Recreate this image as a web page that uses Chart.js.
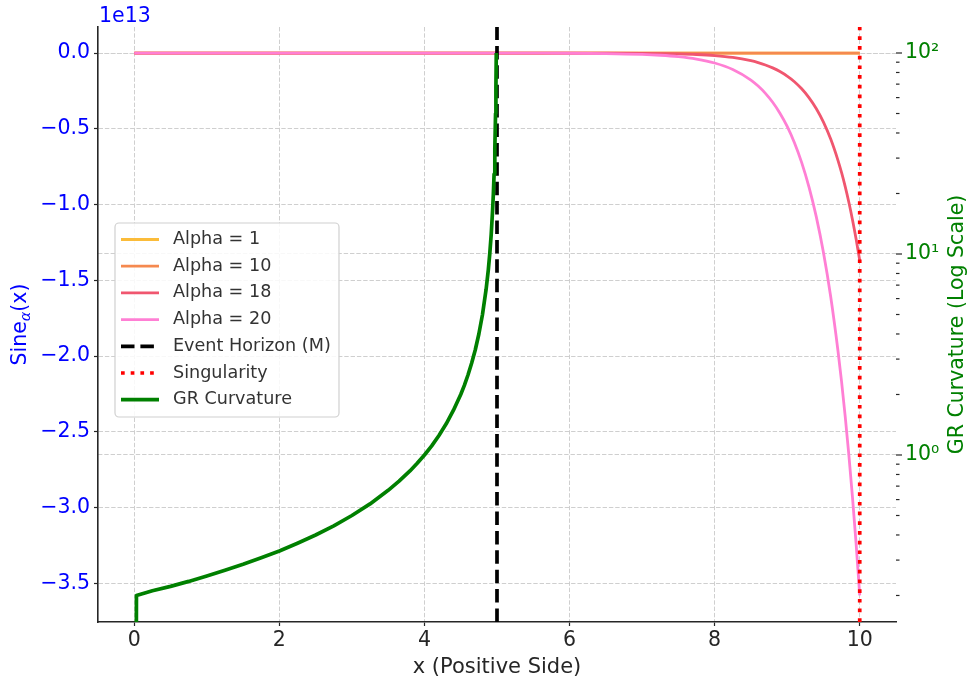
<!DOCTYPE html>
<html><head><meta charset="utf-8">
<script src="https://cdn.jsdelivr.net/npm/chart.js@4/dist/chart.umd.min.js"></script>
<style>html,body{margin:0;padding:0;background:#fff}#c{display:block}</style>
</head><body>
<canvas id="c" width="972" height="682"></canvas>
<script>
const FONT = '"DejaVu Sans", Verdana, sans-serif';

// ---- data (Sine values in units of 1e13) ----
const xAlpha  = [0, 1, 2, 3, 4, 5, 5.5, 6, 6.5, 7, 7.25, 7.5, 7.75, 8, 8.25, 8.5, 8.6, 8.7, 8.8, 8.9, 9, 9.1, 9.2, 9.3, 9.4, 9.5, 9.6, 9.7, 9.75, 9.8, 9.85, 9.9, 9.95, 10];
const alpha1  = [0, 0, 0, 0, 0, 0, 0, 0, 0, 0, 0, 0, 0, 0, 0, 0, 0, 0, 0, 0, 0, 0, 0, 0, 0, 0, 0, 0, 0, 0, 0, 0, 0, 0];
const alpha10 = [0, 0, 0, 0, 0, 0, 0, 0, 0, 0, 0, 0, 0, 0, 0, 0, 0, 0, 0, 0, 0, 0, 0, 0, 0, 0, 0, 0, 0, 0, 0, 0, 0, -0.001];
const alpha18 = [0, 0, 0, 0, 0, 0, 0, -0.0002, -0.0006, -0.0019, -0.0032, -0.0056, -0.0097, -0.0168, -0.029, -0.0505, -0.063, -0.0785, -0.0978, -0.122, -0.152, -0.189, -0.236, -0.294, -0.366, -0.456, -0.568, -0.708, -0.79, -0.882, -0.985, -1.10, -1.228, -1.37];
const alpha20 = [0, 0, 0, 0, 0, -0.0002, -0.0004, -0.0012, -0.0033, -0.0089, -0.0146, -0.024, -0.0398, -0.0656, -0.108, -0.178, -0.218, -0.266, -0.325, -0.397, -0.484, -0.592, -0.723, -0.883, -1.078, -1.317, -1.609, -1.965, -2.171, -2.40, -2.652, -2.931, -3.239, -3.58];

const xGR         = [0.02, 0.03, 0.25, 0.5, 0.75, 1, 1.25, 1.5, 1.75, 2, 2.25, 2.5, 2.75, 3, 3.25, 3.5, 3.65, 3.8, 3.9, 4, 4.1, 4.2, 4.3, 4.4, 4.5, 4.55, 4.6, 4.65, 4.7, 4.75, 4.8, 4.85, 4.88, 4.9, 4.92, 4.94, 4.95, 4.96, 4.97, 4.98, 4.985, 4.99];
const grCurvature = [0.01, 0.2, 0.211, 0.222, 0.235, 0.25, 0.267, 0.286, 0.308, 0.333, 0.364, 0.4, 0.444, 0.5, 0.571, 0.667, 0.741, 0.833, 0.909, 1.0, 1.11, 1.25, 1.43, 1.67, 2.0, 2.22, 2.5, 2.86, 3.33, 4.0, 5.0, 6.67, 8.33, 10, 12.5, 16.7, 20, 25, 33.3, 50, 66.7, 100];

const eventHorizonX = 5;
const singularityX = 10;

const seriesLabels = ['Alpha = 1', 'Alpha = 10', 'Alpha = 18', 'Alpha = 20', 'Event Horizon (M)', 'Singularity', 'GR Curvature'];

const xTicks = [0, 2, 4, 6, 8, 10];
const xTickLabels = ['0', '2', '4', '6', '8', '10'];
const yTicks = [0, -0.5, -1.0, -1.5, -2.0, -2.5, -3.0, -3.5];
const yTickLabels = ['0.0', '\u22120.5', '\u22121.0', '\u22121.5', '\u22122.0', '\u22122.5', '\u22123.0', '\u22123.5'];
const y2MajorTicks = [1, 10, 100];
const y2MajorLabels = ['10\u2070', '10\u00b9', '10\u00b2'];
const y2MinorTicks = [0.2, 0.3, 0.4, 0.5, 0.6, 0.7, 0.8, 0.9, 2, 3, 4, 5, 6, 7, 8, 9, 20, 30, 40, 50, 60, 70, 80, 90];

const xRange = [-0.5, 10.5];
const yRange = [-3.756, 0.172];
const y2Range = [0.1476, 134.7];

// ---- helpers ----
const pts = (xs, ys) => xs.map((x, i) => ({x: x, y: ys[i]}));
const GRID = '#cfcfcf';
const DASH = [4.4, 1.9];
const TXT = '#262626';

const datasets = [
  {label: seriesLabels[0], data: pts(xAlpha, alpha1),  borderColor: '#fbbc3a', borderWidth: 2.8, yAxisID: 'y', order: 7, cubicInterpolationMode: 'monotone'},
  {label: seriesLabels[1], data: pts(xAlpha, alpha10), borderColor: '#f5894f', borderWidth: 2.8, yAxisID: 'y', order: 6, cubicInterpolationMode: 'monotone'},
  {label: seriesLabels[2], data: pts(xAlpha, alpha18), borderColor: '#f0566f', borderWidth: 2.8, yAxisID: 'y', order: 5, cubicInterpolationMode: 'monotone'},
  {label: seriesLabels[3], data: pts(xAlpha, alpha20), borderColor: '#ff7fd4', borderWidth: 2.8, yAxisID: 'y', order: 4, cubicInterpolationMode: 'monotone'},
  {label: seriesLabels[4], data: [{x: eventHorizonX, y: yRange[0]}, {x: eventHorizonX, y: yRange[1]}], borderColor: '#000000', borderWidth: 3.7, borderDash: [13.5, 5.9], yAxisID: 'y', order: 3},
  {label: seriesLabels[5], data: [{x: singularityX, y: yRange[0]}, {x: singularityX, y: yRange[1]}], borderColor: '#ff0000', borderWidth: 3.7, borderDash: [3.7, 6.0], yAxisID: 'y', order: 2},
  {label: seriesLabels[6], data: pts(xGR, grCurvature), borderColor: '#008000', borderWidth: 3.7, yAxisID: 'y2', order: 1, tension: 0}
];
datasets.forEach(d => { d.pointRadius = 0; d.pointHoverRadius = 0; d.fill = false; d.borderCapStyle = 'butt'; d.borderJoinStyle = 'round'; });

const decor = {
  id: 'decor',
  afterDraw(chart) {
    const {ctx, chartArea: a, scales} = chart;
    ctx.save();
    // right axis tick marks (major and minor)
    const y2 = scales.y2;
    ctx.strokeStyle = TXT; ctx.lineWidth = 1.2;
    y2.ticks.forEach(t => {
      const p = y2.getPixelForValue(t.value);
      if (p < a.top - 0.5 || p > a.bottom + 0.5) return;
      const L = t.major ? 6 : 3.5;
      ctx.beginPath(); ctx.moveTo(a.right, p); ctx.lineTo(a.right + L, p); ctx.stroke();
    });
    // offset text
    ctx.fillStyle = '#0000ff';
    ctx.font = '20.5px ' + FONT;
    ctx.textAlign = 'left'; ctx.textBaseline = 'alphabetic';
    ctx.fillText('1e13', 99, 22);
    const cy = (a.top + a.bottom) / 2;
    // left title: Sine_alpha(x)
    ctx.save();
    ctx.translate(26, cy); ctx.rotate(-Math.PI / 2);
    ctx.font = '20.5px ' + FONT; const w1 = ctx.measureText('Sine').width; const w3 = ctx.measureText('(x)').width;
    ctx.font = 'italic 14.5px ' + FONT; const w2 = ctx.measureText('\u03b1').width;
    let sx = -(w1 + w2 + w3) / 2;
    ctx.fillStyle = '#0000ff'; ctx.textAlign = 'left'; ctx.textBaseline = 'alphabetic';
    ctx.font = '20.5px ' + FONT; ctx.fillText('Sine', sx, 0); sx += w1;
    ctx.font = 'italic 14.5px ' + FONT; ctx.fillText('\u03b1', sx, 4); sx += w2;
    ctx.font = '20.5px ' + FONT; ctx.fillText('(x)', sx, 0);
    ctx.restore();
    // right title
    ctx.save();
    ctx.translate(963, cy); ctx.rotate(-Math.PI / 2);
    ctx.fillStyle = '#008000'; ctx.font = '20.5px ' + FONT;
    ctx.textAlign = 'center'; ctx.textBaseline = 'alphabetic';
    ctx.fillText('GR Curvature (Log Scale)', 0, 0);
    ctx.restore();
    // legend
    const lx = 115, ly = 223, lw = 224, lh = 194, r = 4;
    ctx.beginPath();
    ctx.moveTo(lx + r, ly); ctx.lineTo(lx + lw - r, ly); ctx.arcTo(lx + lw, ly, lx + lw, ly + r, r);
    ctx.lineTo(lx + lw, ly + lh - r); ctx.arcTo(lx + lw, ly + lh, lx + lw - r, ly + lh, r);
    ctx.lineTo(lx + r, ly + lh); ctx.arcTo(lx, ly + lh, lx, ly + lh - r, r);
    ctx.lineTo(lx, ly + r); ctx.arcTo(lx, ly, lx + r, ly, r); ctx.closePath();
    ctx.fillStyle = 'rgba(255,255,255,0.85)'; ctx.fill();
    ctx.strokeStyle = '#d0d0d0'; ctx.lineWidth = 1.2; ctx.stroke();
    chart.data.datasets.forEach((d, i) => {
      const yy = 239.5 + i * 26.7;
      ctx.save();
      ctx.strokeStyle = d.borderColor; ctx.lineWidth = d.borderWidth;
      ctx.setLineDash(d.borderDash || []); ctx.lineCap = 'butt';
      ctx.beginPath(); ctx.moveTo(121, yy); ctx.lineTo(159, yy); ctx.stroke();
      ctx.restore();
      ctx.fillStyle = '#333333'; ctx.font = '17.6px ' + FONT;
      ctx.textAlign = 'left'; ctx.textBaseline = 'middle';
      ctx.fillText(d.label, 173, yy);
    });
    ctx.restore();
  }
};

new Chart(document.getElementById('c'), {
  type: 'line',
  data: {datasets: datasets},
  options: {
    responsive: false,
    animation: false,
    events: [],
    layout: {padding: {top: 27, left: 0, right: 0, bottom: 0}},
    plugins: {legend: {display: false}, tooltip: {enabled: false}, title: {display: false}},
    scales: {
      x: {
        type: 'linear', position: 'bottom', min: xRange[0], max: xRange[1],
        afterBuildTicks: s => { s.ticks = xTicks.map(v => ({value: v})); },
        afterFit: s => { s.height = 60; },
        ticks: {autoSkip: false, maxRotation: 0, color: TXT, padding: 2, font: {family: FONT, size: 20.5},
                callback: (v) => { const i = xTicks.indexOf(v); return i >= 0 ? xTickLabels[i] : ''; }},
        grid: {color: GRID, lineWidth: 1, drawTicks: true, tickLength: 4, tickColor: TXT, tickWidth: 1.2},
        border: {display: true, color: TXT, width: 1.6, dash: DASH},
        title: {display: true, text: 'x (Positive Side)', color: TXT, font: {family: FONT, size: 21}, padding: {top: 0, bottom: 2}}
      },
      y: {
        type: 'linear', position: 'left', min: yRange[0], max: yRange[1],
        afterBuildTicks: s => { s.ticks = yTicks.slice().reverse().map(v => ({value: v})); },
        afterFit: s => { s.width = 98; },
        ticks: {autoSkip: false, color: '#0000ff', padding: 4, font: {family: FONT, size: 20.5},
                callback: (v) => { const i = yTicks.findIndex(t => Math.abs(t - v) < 1e-9); return i >= 0 ? yTickLabels[i] : ''; }},
        grid: {color: GRID, lineWidth: 1, drawTicks: true, tickLength: 4, tickColor: TXT, tickWidth: 1.2},
        border: {display: true, color: TXT, width: 1.6, dash: DASH}
      },
      y2: {
        type: 'logarithmic', position: 'right', min: y2Range[0], max: y2Range[1],
        afterBuildTicks: s => {
          const all = y2MinorTicks.map(v => ({value: v, major: false})).concat(y2MajorTicks.map(v => ({value: v, major: true})));
          all.sort((p, q) => p.value - q.value);
          s.ticks = all;
        },
        afterFit: s => { s.width = 76; },
        ticks: {autoSkip: false, color: '#008000', padding: 9, font: {family: FONT, size: 20.5},
                callback: (v) => { const i = y2MajorTicks.indexOf(v); return i >= 0 ? y2MajorLabels[i] : ''; }},
        grid: {color: c => (c.tick && c.tick.major) ? GRID : 'rgba(0,0,0,0)', lineWidth: 1, drawTicks: false},
        border: {display: false, dash: DASH}
      }
    }
  },
  plugins: [decor]
});
</script>
</body></html>
